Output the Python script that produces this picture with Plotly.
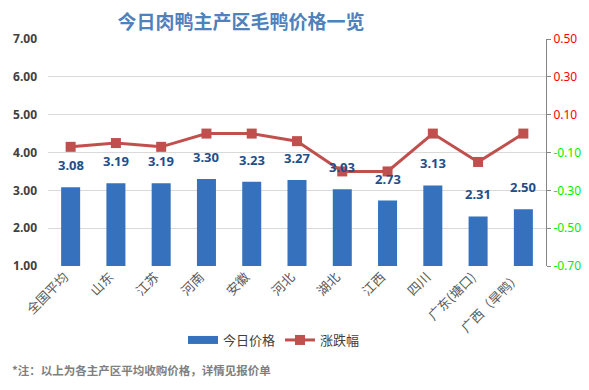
import plotly.graph_objects as go

categories = ["全国平均", "山东", "江苏", "河南", "安徽", "河北", "湖北", "江西", "四川", "广东(塘口)", "广西（旱鸭）"]
prices = [3.08, 3.19, 3.19, 3.30, 3.23, 3.27, 3.03, 2.73, 3.13, 2.31, 2.50]
changes = [-0.07, -0.05, -0.07, 0.00, 0.00, -0.04, -0.20, -0.20, 0.00, -0.15, 0.00]
left_ticks = [1, 2, 3, 4, 5, 6, 7]
right_ticks = [0.5, 0.3, 0.1, -0.1, -0.3, -0.5, -0.7]

BAR_COLOR = "#3571BC"
LINE_COLOR = "#C0504D"

fig = go.Figure()
fig.add_trace(go.Bar(
    x=categories, y=prices, name="今日价格",
    marker=dict(color=BAR_COLOR, line=dict(width=0)),
    width=0.42, yaxis="y", showlegend=False,
))
# legend-only entry to show a wide rectangle swatch for the bar series
fig.add_trace(go.Scatter(
    x=[None], y=[None], name="今日价格", mode="lines",
    line=dict(color=BAR_COLOR, width=8), yaxis="y",
))
fig.add_trace(go.Scatter(
    x=categories, y=changes, name="涨跌幅", mode="lines+markers",
    line=dict(color=LINE_COLOR, width=3),
    marker=dict(symbol="square", size=10, color=LINE_COLOR),
    yaxis="y2",
))

for c, p in zip(categories, prices):
    fig.add_annotation(x=c, y=p, xref="x", yref="y", text="<b>%.2f</b>" % p,
                       showarrow=False, yshift=22,
                       font=dict(size=13, color="#1F4E8C", family="Noto Sans, sans-serif"))

def rtick(v):
    col = "#FF0000" if v > 0 else "#00EE00"
    return "<span style='color:%s'>%.2f</span>" % (col, v)

fig.update_layout(
    width=589, height=390,
    margin=dict(l=48, r=43, t=39, b=124, autoexpand=False),
    paper_bgcolor="white", plot_bgcolor="white",
    font=dict(family="Noto Sans CJK SC, sans-serif"),
    title=dict(text="<b>今日肉鸭主产区毛鸭价格一览</b>", x=241/589, xanchor="center",
               y=1 - 22/390, yanchor="middle", automargin=False,
               font=dict(size=19, color="#4F81BD", family="Noto Sans CJK SC")),
    xaxis=dict(tickangle=-45, tickfont=dict(size=13, color="#595959", family="Noto Sans CJK SC"),
               showgrid=False, showline=False, ticks="", automargin=False,
               range=[-0.5, len(categories) - 0.5],
               ticklabelshift=-6),
    yaxis=dict(range=[1, 7], tickvals=left_ticks, ticktext=["%.2f" % v for v in left_ticks],
               tickfont=dict(size=12, color="#404040", family="Noto Sans, sans-serif", weight="bold"),
               showgrid=True, gridcolor="#D9D9D9", gridwidth=1, zeroline=False, showline=False,
               ticklabelstandoff=10, automargin=False),
    yaxis2=dict(range=[-0.7, 0.5], overlaying="y", side="right",
                tickvals=right_ticks, ticktext=[rtick(v) for v in right_ticks],
                tickfont=dict(size=12, family="Noto Sans, sans-serif"),
                showgrid=False, zeroline=False, showline=True, linecolor="#868686", linewidth=1,
                ticks="outside", ticklen=4, tickcolor="#868686", automargin=False),
    legend=dict(orientation="h", x=(274 - 48) / 498, xanchor="center", y=(266 - 340) / 227,
                yanchor="middle",
                font=dict(size=13, color="#404040", family="Noto Sans CJK SC")),
    showlegend=True,
)

fig.add_annotation(xref="paper", yref="paper", x=(10 - 48) / 498, y=(266 - 370) / 227,
                   xanchor="left", yanchor="middle",
                   text="<b>*注：以上为各主产区平均收购价格，详情见报价单</b>", showarrow=False,
                   font=dict(size=11.5, color="#7F7F7F", family="Noto Sans CJK SC"))

fig.write_html("out.html", config={"displayModeBar": False},
               post_script="document.body.style.margin='0';")
